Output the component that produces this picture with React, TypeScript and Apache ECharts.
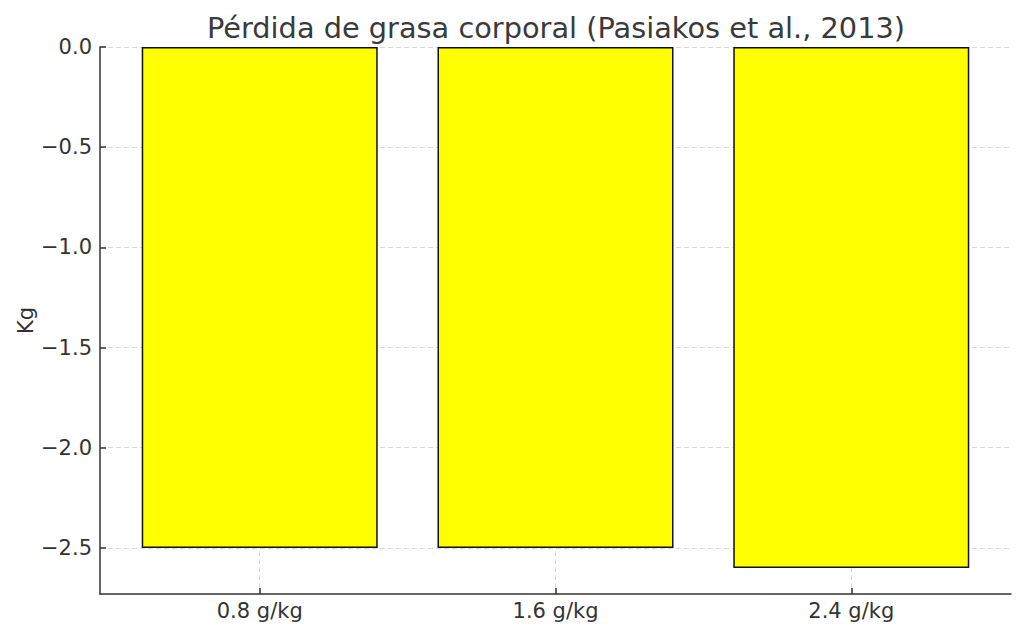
import React, { useEffect, useRef } from 'react';
import * as echarts from 'echarts';

// 数据
const categories = ['0.8 g/kg', '1.6 g/kg', '2.4 g/kg'];
const fatLoss = [-2.5, -2.5, -2.6];
const yTicks = [0, -0.5, -1.0, -1.5, -2.0, -2.5];
const xTicks = [0, 1, 2];

const fmtNum = (v: number) => v.toFixed(1).replace('-', '\u2212');

export default function App() {
  const chartRef = useRef<HTMLDivElement>(null);

  useEffect(() => {
    if (!chartRef.current) return;
    const chart = echarts.init(chartRef.current, undefined, { renderer: 'svg' });
    const font = 'DejaVu Sans';
    const axisColor = '#333';

    const option = {
      animation: false,
      backgroundColor: '#fff',
      textStyle: { fontFamily: font },
      title: {
        text: 'Pérdida de grasa corporal (Pasiakos et al., 2013)',
        left: 551,
        textAlign: 'center',
        top: 8,
        textStyle: { fontFamily: font, fontSize: 28.8, fontWeight: 'normal', color: '#3a3a3a' }
      },
      grid: { left: 100, right: 13, top: 47, bottom: 41 },
      xAxis: {
        type: 'value',
        min: -0.54,
        max: 2.54,
        axisLine: { onZero: false, lineStyle: { color: axisColor, width: 1.5 } },
        axisTick: { show: true, inside: true, length: 6, customValues: xTicks, lineStyle: { color: axisColor, width: 1.5 } },
        axisLabel: {
          customValues: xTicks,
          margin: 6,
          fontSize: 21,
          color: '#333',
          fontFamily: font,
          formatter: (v: number) => categories[Math.round(v)] ?? ''
        },
        splitLine: { show: true, lineStyle: { color: '#d8d8d8', type: [5, 3], width: 1 } }
      },
      yAxis: {
        type: 'value',
        min: -2.73,
        max: 0,
        name: 'Kg',
        nameLocation: 'middle',
        nameRotate: 90,
        nameGap: 64,
        nameMoveOverlap: false,
        nameTextStyle: { fontSize: 21, color: '#333', fontFamily: font },
        axisLine: { show: true, onZero: false, lineStyle: { color: axisColor, width: 1.5 } },
        axisTick: { show: true, inside: true, length: 6, customValues: yTicks, lineStyle: { color: axisColor, width: 1.5 } },
        axisLabel: {
          customValues: yTicks,
          margin: 8,
          fontSize: 21,
          color: '#333',
          fontFamily: font,
          formatter: (v: number) => fmtNum(v)
        },
        splitLine: { show: true, lineStyle: { color: '#d8d8d8', type: [5, 3], width: 1 } }
      },
      series: [
        {
          type: 'bar',
          data: fatLoss.map((v, i) => [i, v]),
          barWidth: 236,
          itemStyle: { color: '#ffff00', borderColor: '#111', borderWidth: 1.5 }
        }
      ]
    };
    chart.setOption(option);
    return () => chart.dispose();
  }, []);

  return (
    <div style={{ position: 'fixed', left: 0, top: 0, width: 1024, height: 635 }}>
      <div ref={chartRef} style={{ width: '100%', height: '100%' }} />
    </div>
  );
}
